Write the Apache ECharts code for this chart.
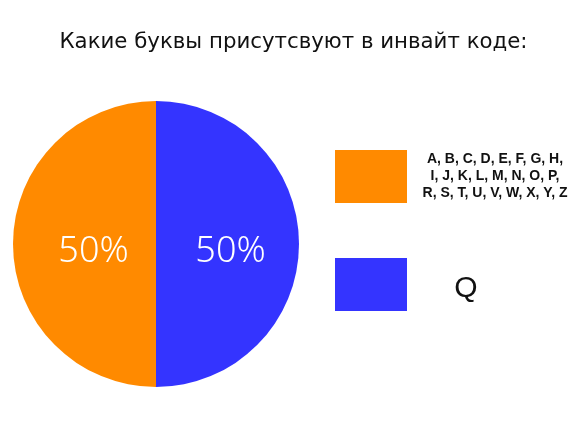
<!DOCTYPE html>
<html><head><meta charset="utf-8">
<script src="https://cdn.jsdelivr.net/npm/echarts@6/dist/echarts.min.js"></script>
<style>html,body{margin:0;padding:0;background:#fff}#c{width:587px;height:441px}</style>
</head><body><div id="c"></div>
<script>
const titleText = 'Какие буквы присутсвуют в инвайт коде:';
const categories = ['A, B, C, D, E, F, G, H,\nI, J, K, L, M, N, O, P,\nR, S, T, U, V, W, X, Y, Z', 'Q'];
const values = [50, 50];
const colors = ['#FF8A00', '#3434FF'];

const chart = echarts.init(document.getElementById('c'));
chart.setOption({
  animation: false,
  title: {
    text: titleText, left: 'center', top: 27,
    textStyle: { fontFamily: 'DejaVu Sans', fontSize: 21.3, fontWeight: 'normal', color: '#111' }
  },
  legend: {
    orient: 'vertical', left: 330, top: 145,
    itemWidth: 72, itemHeight: 53, itemGap: 55,
    icon: 'rect', selectedMode: false,
    data: categories,
    formatter: function (name) {
      if (name === 'Q') return '{q|Q}';
      return name.split('\n').map(l => '{a|' + l + '}').join('\n');
    },
    textStyle: {
      rich: {
        a: { fontFamily: 'Liberation Sans', fontWeight: 'bold', fontSize: 14, lineHeight: 17, width: 166, align: 'center', color: '#111' },
        q: { fontFamily: 'Liberation Sans', fontSize: 30, width: 108, align: 'center', color: '#111', padding: [8, 0, 0, 0] }
      }
    }
  },
  series: [{
    type: 'pie',
    center: [156, 244],
    radius: 143,
    clockwise: false,
    startAngle: 90,
    color: colors,
    label: {
      show: true, position: 'inside', formatter: '{d}%',
      color: '#fff', fontFamily: 'Noto Sans', fontSize: 36, fontWeight: 300
    },
    labelLine: { show: false },
    labelLayout: function (p) { return { dy: 8, dx: p.dataIndex === 0 ? 12 : 0 }; },
    emphasis: { disabled: true },
    data: categories.map((c, i) => ({ name: c, value: values[i] }))
  }]
});
</script></body></html>
